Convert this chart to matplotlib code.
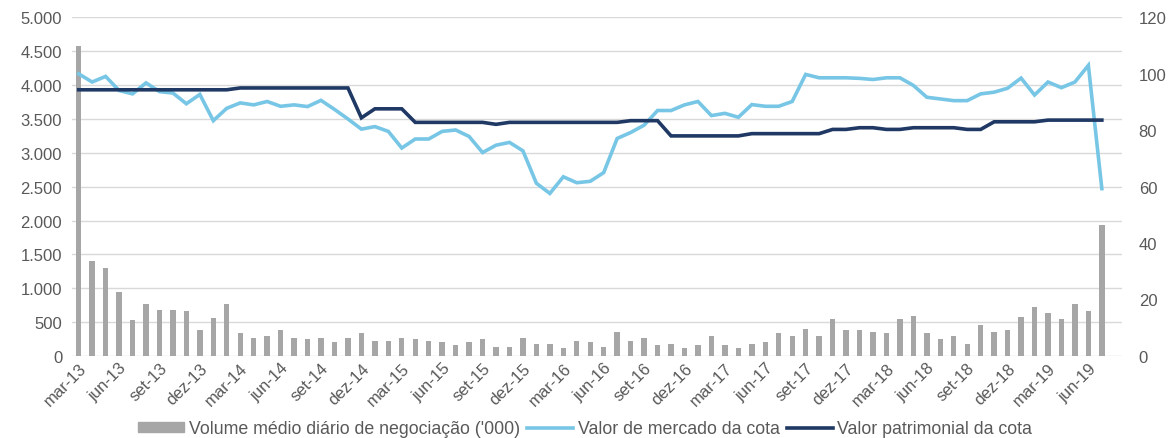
import matplotlib
matplotlib.use("Agg")
import matplotlib.pyplot as plt
from matplotlib.patches import Patch
from matplotlib.lines import Line2D
from matplotlib.ticker import FuncFormatter, MultipleLocator
import numpy as np

plt.rcParams['font.family'] = ['Liberation Sans', 'DejaVu Sans']

tick_labels = ["mar-13", "jun-13", "set-13", "dez-13", "mar-14", "jun-14", "set-14", "dez-14",
               "mar-15", "jun-15", "set-15", "dez-15", "mar-16", "jun-16", "set-16", "dez-16",
               "mar-17", "jun-17", "set-17", "dez-17", "mar-18", "jun-18", "set-18", "dez-18",
               "mar-19", "jun-19"]

volume = [4580, 1407, 1294, 945, 527, 773, 684, 684, 659, 379,
          556, 773, 335, 266, 290, 379, 266, 246, 271, 202,
          271, 335, 226, 226, 271, 246, 226, 202, 157, 202,
          246, 138, 138, 271, 182, 182, 113, 226, 202, 138,
          354, 226, 271, 157, 182, 113, 157, 290, 157, 113,
          182, 202, 335, 290, 399, 290, 551, 379, 379, 354,
          335, 551, 595, 335, 246, 290, 182, 463, 354, 379,
          576, 728, 640, 551, 773, 659, 1935]

market = [100.0, 97.1, 99.1, 94.1, 92.9, 96.8, 93.7, 93.2, 89.4, 92.7,
          83.4, 87.8, 89.7, 89.0, 90.2, 88.5, 89.0, 88.4, 90.6, 87.4,
          84.0, 80.4, 81.3, 79.6, 73.7, 76.9, 76.9, 79.6, 80.1, 77.8,
          72.1, 74.7, 75.7, 72.7, 61.2, 57.6, 63.5, 61.4, 61.9, 65.0,
          77.1, 79.2, 81.8, 87.0, 87.0, 89.0, 90.2, 85.2, 86.0, 84.6,
          89.1, 88.5, 88.5, 90.2, 99.8, 98.6, 98.6, 98.6, 98.4, 98.0,
          98.6, 98.6, 95.9, 91.7, 91.1, 90.5, 90.5, 92.9, 93.5, 94.9,
          98.5, 92.5, 97.1, 95.1, 97.1, 103.0, 59.3]

patrimonial = [94.35, 94.35, 94.35, 94.35, 94.35, 94.35, 94.35, 94.35, 94.35, 94.35,
               94.35, 94.35, 95.0, 95.0, 95.0, 95.0, 95.0, 95.0, 95.0, 95.0,
               95.0, 84.4, 87.6, 87.6, 87.6, 82.8, 82.8, 82.8, 82.8, 82.8,
               82.8, 82.1, 82.8, 82.8, 82.8, 82.8, 82.8, 82.8, 82.8, 82.8,
               82.8, 83.4, 83.4, 83.4, 78.0, 78.0, 78.0, 78.0, 78.0, 78.0,
               78.8, 78.8, 78.8, 78.8, 78.8, 78.8, 80.3, 80.3, 80.9, 80.9,
               80.3, 80.3, 80.9, 80.9, 80.9, 80.9, 80.3, 80.3, 83.0, 83.0,
               83.0, 83.0, 83.6, 83.6, 83.6, 83.6, 83.6]

bar_color = "#A6A6A6"
market_color = "#78C6E6"
pat_color = "#1F3864"
text_color = "#595959"
grid_color = "#D9D9D9"
fs = 12

fig = plt.figure(figsize=(11.7, 4.39), dpi=100)
ax = fig.add_axes([0.0615, 0.187, 0.8975, 0.771])
ax2 = ax.twinx()

x = np.arange(len(volume))
ax.bar(x, volume, width=0.4, color=bar_color, zorder=2)
ax2.plot(x, market, color=market_color, lw=2.6, solid_joinstyle='miter', zorder=3)
ax2.plot(x, patrimonial, color=pat_color, lw=2.6, solid_joinstyle='miter', zorder=4)

ax.set_xlim(-0.5, len(volume) + 0.5)
ax.set_ylim(0, 5000)
ax2.set_ylim(0, 120)
ax.yaxis.set_major_locator(MultipleLocator(500))
ax2.yaxis.set_major_locator(MultipleLocator(20))
ax.yaxis.set_major_formatter(FuncFormatter(lambda v, p: f"{int(v):,}".replace(",", ".")))
ax.grid(axis='y', color=grid_color, lw=1.0, zorder=0)
ax.set_axisbelow(True)

for a in (ax, ax2):
    for s in a.spines.values():
        s.set_visible(False)
    a.tick_params(length=0, colors=text_color, labelsize=fs)
ax.tick_params(axis='y', pad=7)
ax2.tick_params(axis='y', pad=12)

ax.set_xticks(x[::3][:len(tick_labels)])
ax.set_xticklabels(tick_labels, rotation=45, ha='right', rotation_mode='anchor')
ax.tick_params(axis='x', pad=3)

handles = [Patch(color=bar_color),
           Line2D([0], [0], color=market_color, lw=2.6),
           Line2D([0], [0], color=pat_color, lw=2.6)]
labels = ["Volume médio diário de negociação ('000)", "Valor de mercado da cota", "Valor patrimonial da cota"]
leg = fig.legend(handles, labels, loc='lower center', bbox_to_anchor=(0.5, -0.035), ncol=3,
                 frameon=False, fontsize=12.8, handlelength=2.6, handleheight=0.45,
                 columnspacing=0.4, handletextpad=0.25)
for t in leg.get_texts():
    t.set_color(text_color)

fig.savefig("out.png", dpi=100)
